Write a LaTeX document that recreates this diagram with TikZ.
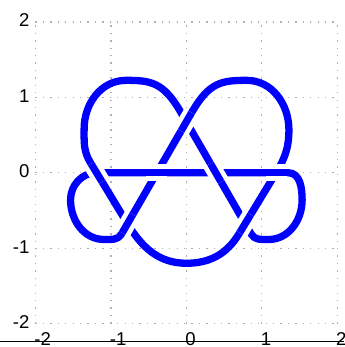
\documentclass[tikz,border=0pt]{standalone}
\usepackage{fontspec}
\setmainfont{Liberation Sans}
\usepackage{tikz}
\usetikzlibrary{calc}
\definecolor{GridGray}{HTML}{B0B0B0}
\begin{document}
\begin{tikzpicture}[line join=round,
knot/.style={draw=blue,line width=2.75pt},
gap/.style={preaction={draw=white,line width=6.3pt}},
gridline/.style={draw=GridGray,line width=0.5pt,dash pattern=on 0.5pt off 2.3pt},
tick/.style={font=\fontsize{7}{8}\selectfont,inner sep=0pt}]
\clip (-2.47,-2.31) rectangle (2.094,2.29);
\draw[gridline] (-2,-2) grid (2,2);
\draw[line width=0.4pt] (-2.47,-2.241) -- (2.094,-2.241);
\foreach \k in {-2,...,2} {
  \node[tick,anchor=east] (ylab\k) at (-2.073,\k+0.02) {\k};
  \node[tick,anchor=base west] (xlab\k) at (\k-0.02,-2.285) {\k};
}
% crossing points
\coordinate (apex) at (0,0.675);
\coordinate (bl) at (-0.39,0);
\coordinate (br) at (0.39,0);
\coordinate (xl) at (-1.19,0);
\coordinate (xr) at (1.19,0);
\coordinate (lowl) at (-0.78,-0.675);
\coordinate (lowr) at (0.78,-0.675);
% the knot
\draw[knot] (lowl) to[out=-58.7,in=180] (0,-1.2)
  to[out=0,in=238.7] ($(lowr)+(238.7:0.16)$) -- (lowr) -- (xr)
  to[out=58.7,in=-90] (1.36,0.57)
  to[out=90,in=0] (0.80,1.225)
  to[out=180,in=60,in looseness=1.4] ($(apex)+(60:0.15)$)
  -- (apex) -- (bl) -- (lowl) -- ($(lowl)+(240:0.16)$)
  to[out=240,in=0] (-1.09,-0.885) to[out=180,in=-90] (-1.535,-0.36)
  to[out=90,in=180] (xl) -- (bl) -- (br) -- (xr) -- (1.35,0)
  to[out=0,in=90] (1.535,-0.36) to[out=-90,in=0] (1.09,-0.885)
  to[out=180,in=-60] ($(lowr)+(-60:0.16)$) -- (lowr) -- (br) -- (apex)
  -- ($(apex)+(120:0.15)$)
  to[out=120,in=0,out looseness=1.4] (-0.80,1.225)
  to[out=180,in=90] (-1.355,0.58) to[out=-90,in=121.3] ($(xl)+(121.3:0.16)$)
  -- (xl) -- cycle;
% over strands
\foreach \c/\a in {apex/60,bl/0,br/-60,xr/0,xl/-58.7,lowl/60,lowr/58.7}
  \draw[knot,gap] ($(\c)-(\a:0.14)$) -- ($(\c)+(\a:0.14)$);
\end{tikzpicture}
\end{document}
